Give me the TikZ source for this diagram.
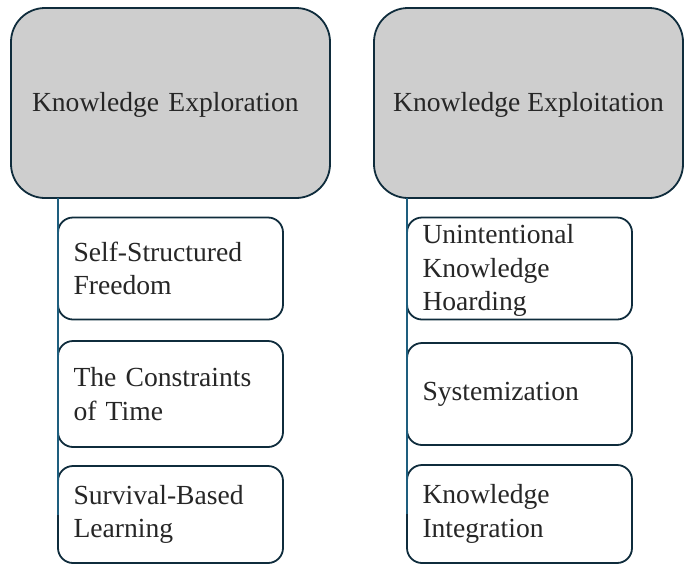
\documentclass[tikz,border=0pt]{standalone}
\usepackage{fontspec}
\setmainfont{Liberation Serif}
\newcommand{\lowered}[1]{\raisebox{-2pt}[\height][\depth]{#1}}
\begin{document}
\begin{tikzpicture}[x=1pt,y=-1pt,
  every node/.style={inner sep=0pt, outer sep=0pt, text=txt,
    font=\fontsize{27.6}{33.5}\selectfont},
  parentbox/.style={draw=edge, line width=1.8pt, fill=headfill,
    rounded corners=34pt, minimum width=#1, minimum height=190pt},
  childbox/.style={draw=edge, line width=1.8pt, fill=white,
    rounded corners=15pt, minimum width=225pt, minimum height=#1,
    text width=194pt, align=left},
  link/.style={draw=linkc, line width=2pt}]
\definecolor{edge}{HTML}{0F2C3C}
\definecolor{headfill}{HTML}{CECECE}
\definecolor{txt}{HTML}{262626}
\definecolor{linkc}{HTML}{1E5E7E}
\useasboundingbox (0,0) rectangle (684,565);

% top-level categories
\node[parentbox=319pt, text width=277pt, align=left] (pa) at (170.5,103)
  {\lowered{Knowledge Exploration}};
\node[parentbox=309pt] (pb) at (528.5,103)
  {\lowered{Knowledge Exploitation}};

% items under exploration
\node[childbox=102pt] (a1) at (170.5,268.5) {Self-Structured\\Freedom};
\node[childbox=106pt] (a2) at (170.5,394) {The Constraints\\of Time};
\node[childbox=97pt]  (a3) at (170.5,514.5) {Survival-Based\\Learning};

% items under exploitation
\node[childbox=102pt] (b1) at (519.5,268.5)
  {\lowered{\parbox{194pt}{Unintentional\\Knowledge\\Hoarding}}};
\node[childbox=102pt] (b2) at (519.5,394) {Systemization};
\node[childbox=98pt]  (b3) at (519.5,514) {Knowledge\\Integration};

% vertical hierarchy lines
\draw[link] ([xshift=-0.5pt]pa.south -| a3.west) -- ([xshift=-0.5pt]a3.west);
\draw[link] ([xshift=-0.5pt]pb.south -| b3.west) -- ([xshift=-0.5pt]b3.west);
\end{tikzpicture}
\end{document}
